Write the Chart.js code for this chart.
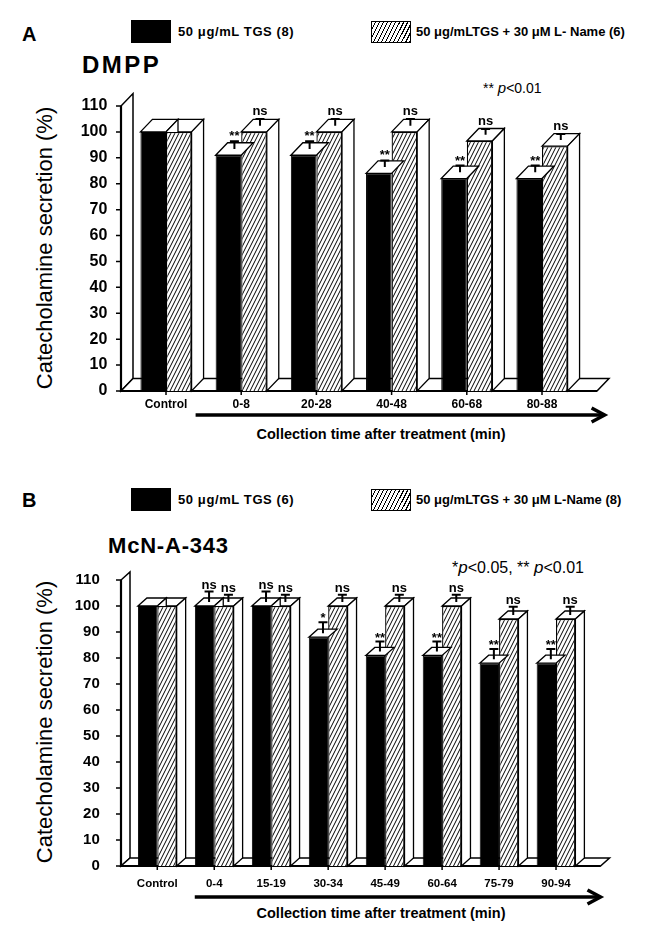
<!DOCTYPE html>
<html>
<head>
<meta charset="utf-8">
<script src="https://cdn.jsdelivr.net/npm/chart.js"></script>
<style>
  html, body { margin: 0; padding: 0; background: #fff; }
  body { width: 649px; height: 927px; position: relative; overflow: hidden;
         font-family: "Liberation Sans", Arial, Helvetica, sans-serif; color: #000; }
  .t { position: absolute; white-space: nowrap; line-height: 1; transform: translateY(-50%); }
  .letter { font-weight: bold; font-size: 20px; }
  .leg { font-weight: bold; font-size: 13px; }
  .drug { font-weight: bold; }
  .note { font-size: 14px; }
  .note i { font-size: 15px; }
  .sw { position: absolute; box-sizing: border-box; border: 1.5px solid #000; }
  .sw.solid { background: #000; }
  .sw.hatch { background: #fff repeating-linear-gradient(117deg, #fff 0 2.6px, #000 2.6px 3.6px); }
  .ytitle { position: absolute; white-space: nowrap; font-size: 22px; line-height: 1;
            transform: translate(-50%, -50%) rotate(-90deg); }
  .xtitle { position: absolute; white-space: nowrap; font-weight: bold; font-size: 14.5px; line-height: 1;
            transform: translate(-50%, -50%); }
  canvas { position: absolute; left: 0; }
</style>
</head>
<body>

<!-- panel A -->
<div class="t letter" style="left:22px; top:34px;">A</div>
<div class="sw solid" style="left:131px; top:20px; width:40px; height:23px;"></div>
<div class="t leg" style="left:178px; top:31px; letter-spacing:0.6px;">50 μg/mL TGS (8)</div>
<div class="sw hatch" style="left:371px; top:21px; width:40px; height:22px;"></div>
<div class="t leg" style="left:416px; top:31px;">50 μg/mLTGS + 30 μM L- Name (6)</div>
<div class="t drug" style="left:82px; top:65px; font-size:24px; letter-spacing:2.5px;">DMPP</div>
<div class="t note" style="left:483px; top:87px;">** <i>p</i>&lt;0.01</div>
<div class="ytitle" style="left:45px; top:248px;">Catecholamine secretion (%)</div>
<div class="xtitle" style="left:381px; top:434px;">Collection time after treatment (min)</div>
<canvas id="chartA" width="649" height="360" style="top:75px;"></canvas>

<!-- panel B -->
<div class="t letter" style="left:22px; top:500px;">B</div>
<div class="sw solid" style="left:131px; top:488px; width:40px; height:23px;"></div>
<div class="t leg" style="left:178px; top:499px; letter-spacing:0.6px;">50 μg/mL TGS (6)</div>
<div class="sw hatch" style="left:371px; top:489px; width:40px; height:22px;"></div>
<div class="t leg" style="left:416px; top:499px;">50 μg/mLTGS + 30 μM L-Name (8)</div>
<div class="t drug" style="left:108px; top:546px; font-size:22px; letter-spacing:0.8px;">McN-A-343</div>
<div class="t note" style="left:452px; top:567px; font-size:16px;">*<i style="font-size:17px;">p</i>&lt;0.05, ** <i style="font-size:17px;">p</i>&lt;0.01</div>
<div class="ytitle" style="left:45px; top:722px;">Catecholamine secretion (%)</div>
<div class="xtitle" style="left:381px; top:913px;">Collection time after treatment (min)</div>
<canvas id="chartB" width="649" height="386" style="top:541px;"></canvas>

<script>
// y axis ticks (both panels)
const yTicks = [0, 10, 20, 30, 40, 50, 60, 70, 80, 90, 100, 110];

// panel A: DMPP
const catsA = ['Control', '0-8', '20-28', '40-48', '60-68', '80-88'];
const tgsA = [100, 91, 91, 84, 82, 82];
const tgsLnA = [100, 100, 100, 100, 96.5, 94.5];
const tgsErrA = [0, 3, 3, 2.6, 2.6, 2.6];
const tgsLnErrA = [0, 2.6, 2.6, 2.6, 2.2, 2.3];
const tgsSigA = ['', '**', '**', '**', '**', '**'];
const tgsLnSigA = ['', 'ns', 'ns', 'ns', 'ns', 'ns'];

// panel B: McN-A-343
const catsB = ['Control', '0-4', '15-19', '30-34', '45-49', '60-64', '75-79', '90-94'];
const tgsB = [100, 100, 100, 88, 81, 81, 78, 78];
const tgsLnB = [100, 100, 100, 100, 100, 100, 95, 95];
const tgsErrB = [0, 4, 4, 4.2, 3.8, 3.8, 3.9, 3.9];
const tgsLnErrB = [0, 2.8, 2.8, 2.8, 2.8, 2.8, 3.2, 3.2];
const tgsSigB = ['', 'ns', 'ns', '*', '**', '**', '**', '**'];
const tgsLnSigB = ['', 'ns', 'ns', 'ns', 'ns', 'ns', 'ns', 'ns'];

function makeHatch() {
  const c = document.createElement('canvas');
  c.width = 4; c.height = 8;
  const g = c.getContext('2d');
  g.fillStyle = '#fff';
  g.fillRect(0, 0, 4, 8);
  g.strokeStyle = '#000';
  g.lineWidth = 1;
  for (let k = -1; k <= 1; k++) {
    g.beginPath();
    g.moveTo(-1 + 4 * k, 10);
    g.lineTo(5 + 4 * k, -2);
    g.stroke();
  }
  return g.createPattern(c, 'repeat');
}

// draws the walls, the depth faces, error bars and the stars
const bars3d = {
  id: 'bars3d',
  beforeDatasetsDraw(chart, args, o) {
    const { ctx, chartArea: ca, scales: { x, y } } = chart;
    const ax = ca.left + o.wallOffset;
    const xr = ca.right + o.floorExtra;
    const y0 = y.getPixelForValue(0);
    const yTop = y.getPixelForValue(y.max);
    ctx.save();
    ctx.strokeStyle = '#000';
    ctx.fillStyle = '#fff';
    ctx.lineWidth = 1.5;
    // left wall
    ctx.beginPath();
    ctx.moveTo(ax, y0); ctx.lineTo(ax, yTop);
    ctx.lineTo(ax + o.dx, yTop + o.dy); ctx.lineTo(ax + o.dx, y0 + o.dy);
    ctx.closePath(); ctx.fill(); ctx.stroke();
    // floor
    ctx.beginPath();
    ctx.moveTo(ax, y0); ctx.lineTo(xr, y0);
    ctx.lineTo(xr + o.dx, y0 + o.dy); ctx.lineTo(ax + o.dx, y0 + o.dy);
    ctx.closePath(); ctx.fill(); ctx.stroke();
    // front axis lines
    ctx.lineWidth = 2.2;
    ctx.beginPath();
    ctx.moveTo(ax, yTop); ctx.lineTo(ax, y0); ctx.lineTo(xr, y0);
    ctx.stroke();
    // tick marks
    ctx.lineWidth = 1.5;
    ctx.beginPath();
    y.ticks.forEach(t => {
      const py = y.getPixelForValue(t.value);
      ctx.moveTo(ax - 5, py); ctx.lineTo(ax, py);
    });
    x.ticks.forEach((t, i) => {
      const px = x.getPixelForValue(i);
      ctx.moveTo(px, y0); ctx.lineTo(px, y0 + 4);
    });
    ctx.stroke();
    // time arrow
    const xs = (x.getPixelForValue(0) + x.getPixelForValue(1)) / 2 + o.arrowStart;
    const xe = ca.right + o.arrowEnd;
    const ya = y0 + o.arrowY;
    ctx.lineWidth = 3.5;
    ctx.lineCap = 'butt';
    ctx.beginPath();
    ctx.moveTo(xs, ya); ctx.lineTo(xe - 2, ya);
    ctx.stroke();
    ctx.beginPath();
    ctx.moveTo(xe - 13, ya - 7); ctx.lineTo(xe, ya); ctx.lineTo(xe - 13, ya + 7);
    ctx.stroke();
    ctx.restore();
  },
  afterDatasetDraw(chart, args, o) {
    const ctx = chart.ctx;
    const i = args.index;
    ctx.save();
    ctx.strokeStyle = '#000';
    ctx.fillStyle = '#fff';
    ctx.lineWidth = 1.3;
    args.meta.data.forEach((bar, k) => {
      const { x, y, base, width } = bar.getProps(['x', 'y', 'base', 'width'], true);
      const l = x - width / 2, r = x + width / 2;
      // top face
      ctx.beginPath();
      ctx.moveTo(l, y); ctx.lineTo(l + o.dx, y + o.dy);
      ctx.lineTo(r + o.dx, y + o.dy); ctx.lineTo(r, y);
      ctx.closePath(); ctx.fill(); ctx.stroke();
      // right side face (black bar's side only shows above the hatched bar)
      ctx.save();
      if (i === 0) {
        const next = chart.getDatasetMeta(1).data[k];
        ctx.beginPath();
        ctx.rect(r, 0, o.dx + 3, next.y);
        ctx.clip();
      }
      ctx.beginPath();
      ctx.moveTo(r, y); ctx.lineTo(r + o.dx, y + o.dy);
      ctx.lineTo(r + o.dx, base + o.dy); ctx.lineTo(r, base);
      ctx.closePath(); ctx.fill(); ctx.stroke();
      ctx.restore();
    });
    ctx.restore();
  },
  afterDatasetsDraw(chart, args, o) {
    const { ctx, scales: { y } } = chart;
    ctx.save();
    ctx.strokeStyle = '#000';
    ctx.fillStyle = '#000';
    ctx.textAlign = 'center';
    ctx.textBaseline = 'alphabetic';
    o.errors.forEach((errs, i) => {
      const meta = chart.getDatasetMeta(i);
      const vals = chart.data.datasets[i].data;
      meta.data.forEach((bar, k) => {
        const err = errs[k];
        const sig = o.sigs[i][k];
        const cx = bar.x + o.dx / 2;
        const yb = bar.y + o.dy / 2;
        const ye = y.getPixelForValue(vals[k] + err) + o.dy / 2;
        if (err > 0) {
          ctx.lineWidth = 2;
          ctx.beginPath();
          ctx.moveTo(cx, yb); ctx.lineTo(cx, ye);
          ctx.moveTo(cx - 4.5, ye); ctx.lineTo(cx + 4.5, ye);
          ctx.stroke();
        }
        if (sig) {
          const stars = sig.indexOf('*') === 0;
          ctx.font = 'bold 13px "Liberation Sans", Arial, sans-serif';
          ctx.fillText(sig, cx, ye - (stars ? o.starGap : o.nsGap));
        }
      });
    });
    ctx.restore();
  }
};

const hatch = makeHatch();

function buildChart(id, cfg) {
  new Chart(document.getElementById(id), {
    type: 'bar',
    data: {
      labels: cfg.cats,
      datasets: [
        { label: cfg.names[0], data: cfg.black, backgroundColor: '#000', borderColor: '#000',
          borderWidth: 1, categoryPercentage: 0.68, barPercentage: 1 },
        { label: cfg.names[1], data: cfg.hatched, backgroundColor: hatch, borderColor: '#000',
          borderWidth: 1.3, categoryPercentage: 0.68, barPercentage: 1 }
      ]
    },
    options: {
      responsive: false,
      animation: false,
      layout: { padding: cfg.padding },
      plugins: {
        legend: { display: false },
        tooltip: { enabled: false },
        bars3d: cfg.depth
      },
      scales: {
        x: {
          grid: { display: false, drawTicks: false },
          border: { display: false },
          ticks: {
            color: '#000', autoSkip: false, maxRotation: 0, padding: cfg.xPad,
            font: { family: '"Liberation Sans", Arial, sans-serif', weight: 'bold', size: cfg.xFont }
          },
          afterFit: s => { s.height = 30; }
        },
        y: {
          min: 0, max: 110,
          grid: { display: false, drawTicks: false },
          border: { display: false },
          afterBuildTicks: s => { s.ticks = yTicks.map(v => ({ value: v })); },
          ticks: {
            color: '#000', padding: cfg.yPad,
            font: { family: '"Liberation Sans", Arial, sans-serif', weight: 'bold', size: cfg.yFont }
          },
          afterFit: s => { s.width = cfg.yWidth; }
        }
      }
    },
    plugins: [bars3d]
  });
}

// canvas A sits at top 75: y(110) -> 106, y(0) -> 391
buildChart('chartA', {
  cats: catsA, black: tgsA, hatched: tgsLnA,
  names: ['50 μg/mL TGS (8)', '50 μg/mL TGS + 30 μM L-Name (6)'],
  padding: { left: 0, right: 69.4, top: 31, bottom: 14 },
  yWidth: 128.4, yPad: 21, yFont: 16, xPad: 6, xFont: 12,
  depth: {
    dx: 12, dy: -12.5, wallOffset: -7.4, floorExtra: 17.4,
    arrowStart: -8, arrowEnd: 25, arrowY: 24,
    starGap: 1, nsGap: 4,
    errors: [tgsErrA, tgsLnErrA], sigs: [tgsSigA, tgsLnSigA]
  }
});

// canvas B sits at top 541: y(110) -> 580, y(0) -> 866
buildChart('chartB', {
  cats: catsB, black: tgsB, hatched: tgsLnB,
  names: ['50 μg/mL TGS (6)', '50 μg/mL TGS + 30 μM L-Name (8)'],
  padding: { left: 0, right: 64.5, top: 39, bottom: 31 },
  yWidth: 128.8, yPad: 29, yFont: 15, xPad: 11, xFont: 11.5,
  depth: {
    dx: 9, dy: -8, wallOffset: -7.8, floorExtra: 16,
    arrowStart: 9, arrowEnd: 16, arrowY: 31,
    starGap: 0, nsGap: 3,
    errors: [tgsErrB, tgsLnErrB], sigs: [tgsSigB, tgsLnSigB]
  }
});
</script>
</body>
</html>
